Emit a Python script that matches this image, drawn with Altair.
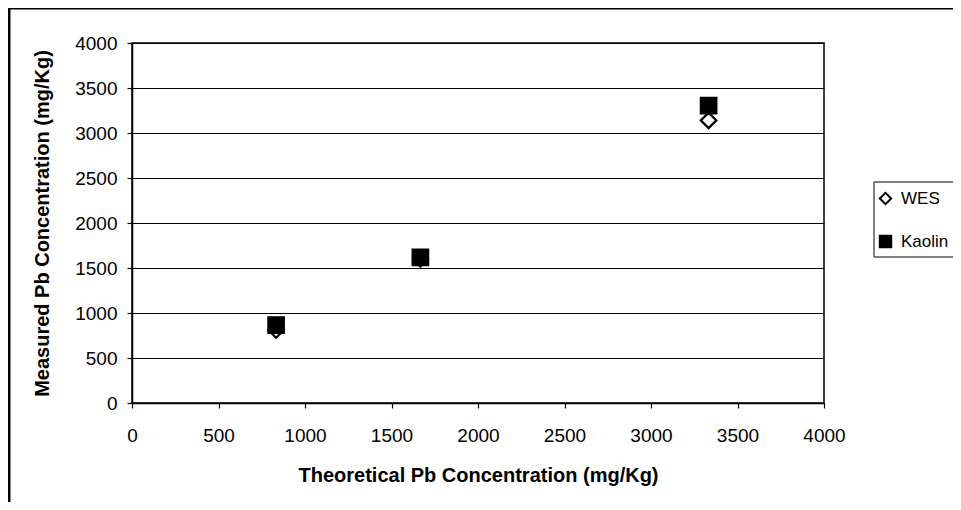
import altair as alt
import pandas as pd

# ---- data ----
theoretical = [833, 1667, 3333]
wes_measured = [812, 1600, 3140]
kaolin_measured = [865, 1618, 3305]
series_names = ["WES", "Kaolin"]
axis_ticks = [0, 500, 1000, 1500, 2000, 2500, 3000, 3500, 4000]

rows = []
for t, v in zip(theoretical, wes_measured):
    rows.append({"Theoretical": t, "Measured": v, "Soil": "WES"})
for t, v in zip(theoretical, kaolin_measured):
    rows.append({"Theoretical": t, "Measured": v, "Soil": "Kaolin"})
df = pd.DataFrame(rows)

FONT = "Liberation Sans"
W, H = 692, 360

points = alt.Chart(df).mark_point(
    filled=True, strokeWidth=2.2, size=240, opacity=1
).encode(
    x=alt.X("Theoretical:Q",
            scale=alt.Scale(domain=[0, 4000], nice=False),
            axis=alt.Axis(values=axis_ticks, grid=False, tickSize=5, format="d",
                          labelFlush=False, labelOverlap=False,
                          labelPadding=18, titlePadding=20,
                          title="Theoretical Pb Concentration (mg/Kg)",
                          titleFontSize=20)),
    y=alt.Y("Measured:Q",
            scale=alt.Scale(domain=[0, 4000], nice=False),
            axis=alt.Axis(values=axis_ticks, grid=True, tickSize=5, format="d",
                          labelFlush=False, labelOverlap=False,
                          labelPadding=10, titlePadding=22,
                          title="Measured Pb Concentration (mg/Kg)",
                          titleFontSize=20)),
    shape=alt.Shape("Soil:N", scale=alt.Scale(domain=series_names, range=["diamond", "square"]),
                    legend=alt.Legend(title=None)),
    fill=alt.Fill("Soil:N", scale=alt.Scale(domain=series_names, range=["white", "black"]),
                  legend=alt.Legend(title=None)),
    stroke=alt.Stroke("Soil:N", scale=alt.Scale(domain=series_names, range=["black", "black"]),
                      legend=alt.Legend(title=None)),
)

one = pd.DataFrame({"a": [0]})

left_border = alt.Chart(one).mark_rule(color="black", strokeWidth=3).encode(
    x=alt.value(-123), y=alt.value(-36), y2=alt.value(470)
)
top_border = alt.Chart(one).mark_rule(color="black", strokeWidth=3).encode(
    y=alt.value(-35), x=alt.value(-125), x2=alt.value(840)
)
legend_box = alt.Chart(one).mark_rect(fill="white", fillOpacity=0, stroke="black", strokeWidth=1).encode(
    x=alt.value(742), x2=alt.value(850), y=alt.value(139), y2=alt.value(214)
)

chart = alt.layer(left_border, top_border, legend_box, points).properties(
    width=W, height=H,
    autosize=alt.AutoSizeParams(type="none"),
    padding={"left": 124, "top": 35, "right": 129, "bottom": 99},
    background="white",
).configure(
    font=FONT,
).configure_view(
    stroke="black", strokeWidth=1.5, fill="white"
).configure_axis(
    domainColor="black", domainWidth=1.5, tickColor="black", tickWidth=1.2,
    gridColor="black", gridWidth=1, gridOpacity=1,
    labelFont=FONT, labelFontSize=19, labelColor="black",
    titleFont=FONT, titleFontWeight="bold", titleColor="black",
).configure_legend(
    orient="none", legendX=745, legendY=147, padding=0,
    labelFont=FONT, labelFontSize=17, labelColor="black",
    rowPadding=22, labelOffset=7, symbolSize=130, symbolStrokeWidth=2,
)

chart.save("out.html", embed_options={"renderer": "svg", "actions": False})
